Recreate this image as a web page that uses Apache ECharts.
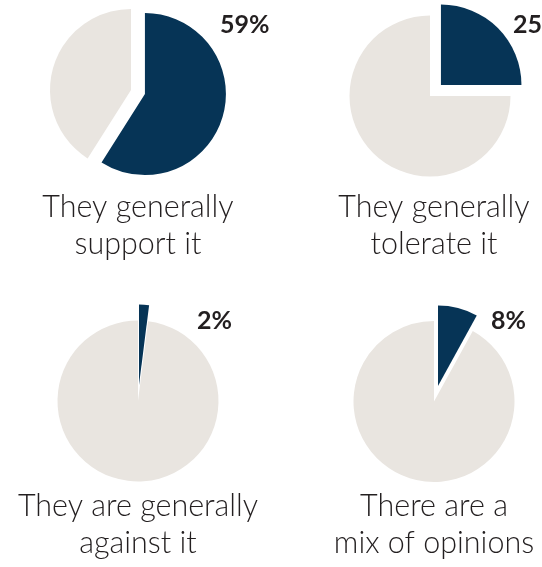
<!DOCTYPE html>
<html>
<head>
<meta charset="utf-8">
<script src="https://cdn.jsdelivr.net/npm/echarts@6/dist/echarts.min.js"></script>
<style>
html,body{margin:0;padding:0;background:#fff;}
#chart{width:542px;height:567px;}
</style>
</head>
<body>
<div id="chart"></div>
<script>
var categories = ['They generally\nsupport it', 'They generally\ntolerate it', 'They are generally\nagainst it', 'There are a\nmix of opinions'];
var values = [59, 25, 2, 8];
var percentLabels = ['59%', '25%', '2%', '8%'];

var NAVY = '#063456';
var GREY = '#e9e5e0';
var TEXT = '#231f20';

var layout = [
  {center: [131, 90], r: 81, off: 14.5, pct: [220, 25], cap: [138, 226]},
  {center: [430, 96], r: 80.5, off: 15.5, pct: [513, 25], cap: [434, 226]},
  {center: [138, 401], r: 80.5, off: 16, pct: [197, 321], cap: [138, 525]},
  {center: [434, 401.5], r: 80.5, off: 16, pct: [491, 321], cap: [434, 525]}
];

var series = [];
var graphic = [];
values.forEach(function (v, i) {
  var L = layout[i];
  series.push({
    type: 'pie',
    center: L.center,
    radius: [0, L.r],
    startAngle: 90,
    clockwise: true,
    selectedMode: 'single',
    selectedOffset: L.off,
    silent: true,
    label: {show: false},
    labelLine: {show: false},
    emphasis: {disabled: true},
    itemStyle: {borderWidth: 0},
    data: [
      {value: v, name: 'yes', selected: true,
        itemStyle: {color: NAVY, borderWidth: 0},
        select: {itemStyle: {color: NAVY, borderWidth: 0}}},
      {value: 100 - v, name: 'rest',
        itemStyle: {color: GREY, borderWidth: 0},
        select: {itemStyle: {color: GREY, borderWidth: 0}}}
    ]
  });
  graphic.push({
    type: 'text', x: L.pct[0], y: L.pct[1], silent: true,
    style: {text: percentLabels[i], fill: TEXT, align: 'left', verticalAlign: 'middle',
      font: 'bold 25px Lato'}
  });
  graphic.push({
    type: 'text', x: L.cap[0], y: L.cap[1], silent: true,
    style: {text: categories[i], fill: TEXT, align: 'center', verticalAlign: 'middle',
      font: '300 30.5px Lato', lineHeight: 37}
  });
});

var chart = echarts.init(document.getElementById('chart'), null, {renderer: 'canvas'});
chart.setOption({
  backgroundColor: '#ffffff',
  animation: false,
  series: series,
  graphic: graphic
});
</script>
</body>
</html>
